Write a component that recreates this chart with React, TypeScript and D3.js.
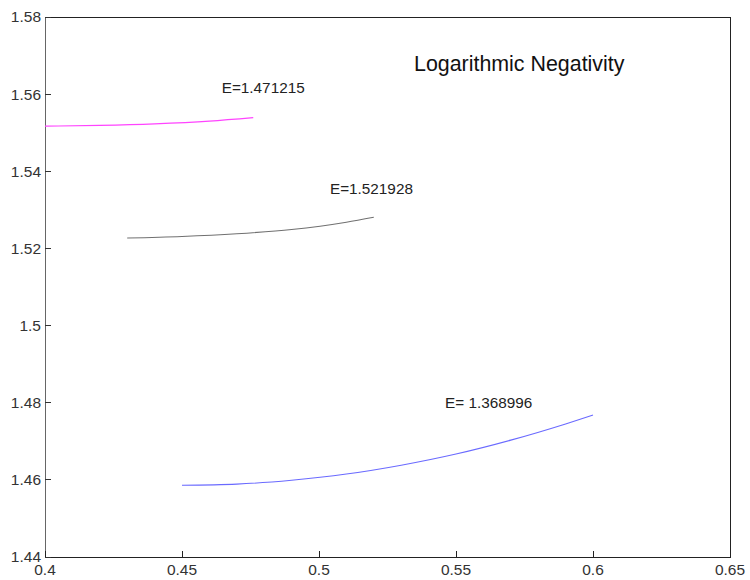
import React, { useEffect, useRef } from "react";
import * as d3 from "d3";

const xTicks = [0.4, 0.45, 0.5, 0.55, 0.6, 0.65];
const yTicks = [1.44, 1.46, 1.48, 1.5, 1.52, 1.54, 1.56, 1.58];

const magentaX = [0.4, 0.42, 0.44, 0.46, 0.476];
const magentaY = [1.5517, 1.5519, 1.5523, 1.553, 1.5539];

const grayX = [0.43, 0.45, 0.47, 0.49, 0.51, 0.52];
const grayY = [1.5227, 1.5231, 1.5238, 1.5249, 1.5268, 1.5281];

const blueX = [0.45, 0.47, 0.49, 0.51, 0.53, 0.55, 0.57, 0.59, 0.6];
const blueY = [1.4586, 1.4589, 1.4599, 1.4615, 1.4638, 1.4667, 1.4703, 1.4745, 1.4768];

const labels = [
  { text: "E=1.471215", x: 0.4645, y: 1.5604 },
  { text: "E=1.521928", x: 0.504, y: 1.5341 },
  { text: "E= 1.368996", x: 0.546, y: 1.4787 },
];
const title = "Logarithmic Negativity";

export default function App() {
  const ref = useRef<SVGSVGElement>(null);
  useEffect(() => {
    const svg = d3.select(ref.current);
    svg.selectAll("*").remove();
    const L = 45, R = 730, T = 17, B = 557;
    const x = d3.scaleLinear().domain([0.4, 0.65]).range([L, R]);
    const y = d3.scaleLinear().domain([1.44, 1.58]).range([B, T]);
    const font = "Liberation Sans, Arial, sans-serif";

    // box
    svg.append("rect").attr("x", L).attr("y", T).attr("width", R - L).attr("height", B - T)
      .attr("fill", "white").attr("stroke", "#222").attr("stroke-width", 1).attr("shape-rendering", "crispEdges");
    svg.append("line").attr("x1", L).attr("x2", L).attr("y1", T).attr("y2", B)
      .attr("stroke", "#666").attr("shape-rendering", "crispEdges");

    const ga = svg.append("g").attr("shape-rendering", "crispEdges");
    yTicks.forEach((v) => {
      ga.append("line").attr("x1", L).attr("x2", L + 6).attr("y1", y(v)).attr("y2", y(v)).attr("stroke", "#333");
      svg.append("text").attr("x", L - 4).attr("y", y(v)).attr("dy", "0.35em").attr("text-anchor", "end")
        .attr("font-family", font).attr("font-size", 15.5).attr("fill", "#333").text(String(v));
    });
    xTicks.forEach((v) => {
      ga.append("line").attr("x1", x(v)).attr("x2", x(v)).attr("y1", B).attr("y2", B - 6).attr("stroke", "#222");
      svg.append("text").attr("x", x(v)).attr("y", B + 18).attr("text-anchor", "middle")
        .attr("font-family", font).attr("font-size", 15.5).attr("fill", "#333").text(String(v));
    });

    const line = d3.line<[number, number]>().x((d) => x(d[0])).y((d) => y(d[1])).curve(d3.curveMonotoneX);
    const series: [number[], number[], string][] = [
      [magentaX, magentaY, "#ff44ff"],
      [grayX, grayY, "#707070"],
      [blueX, blueY, "#6a6aff"],
    ];
    series.forEach(([xs, ys, c]) => {
      svg.append("path").datum(xs.map((v, i) => [v, ys[i]] as [number, number]))
        .attr("d", line).attr("fill", "none").attr("stroke", c).attr("stroke-width", 1.1);
    });

    labels.forEach((l) => {
      svg.append("text").attr("x", x(l.x)).attr("y", y(l.y)).attr("font-family", font)
        .attr("font-size", 15.3).attr("fill", "#222").text(l.text);
    });
    svg.append("text").attr("x", 414).attr("y", 71).attr("font-family", font)
      .attr("font-size", 21.4).attr("fill", "#111").text(title);
  }, []);
  return (
    <svg ref={ref} width={750} height={580} style={{ position: "absolute", left: 0, top: 0, background: "white" }} />
  );
}
